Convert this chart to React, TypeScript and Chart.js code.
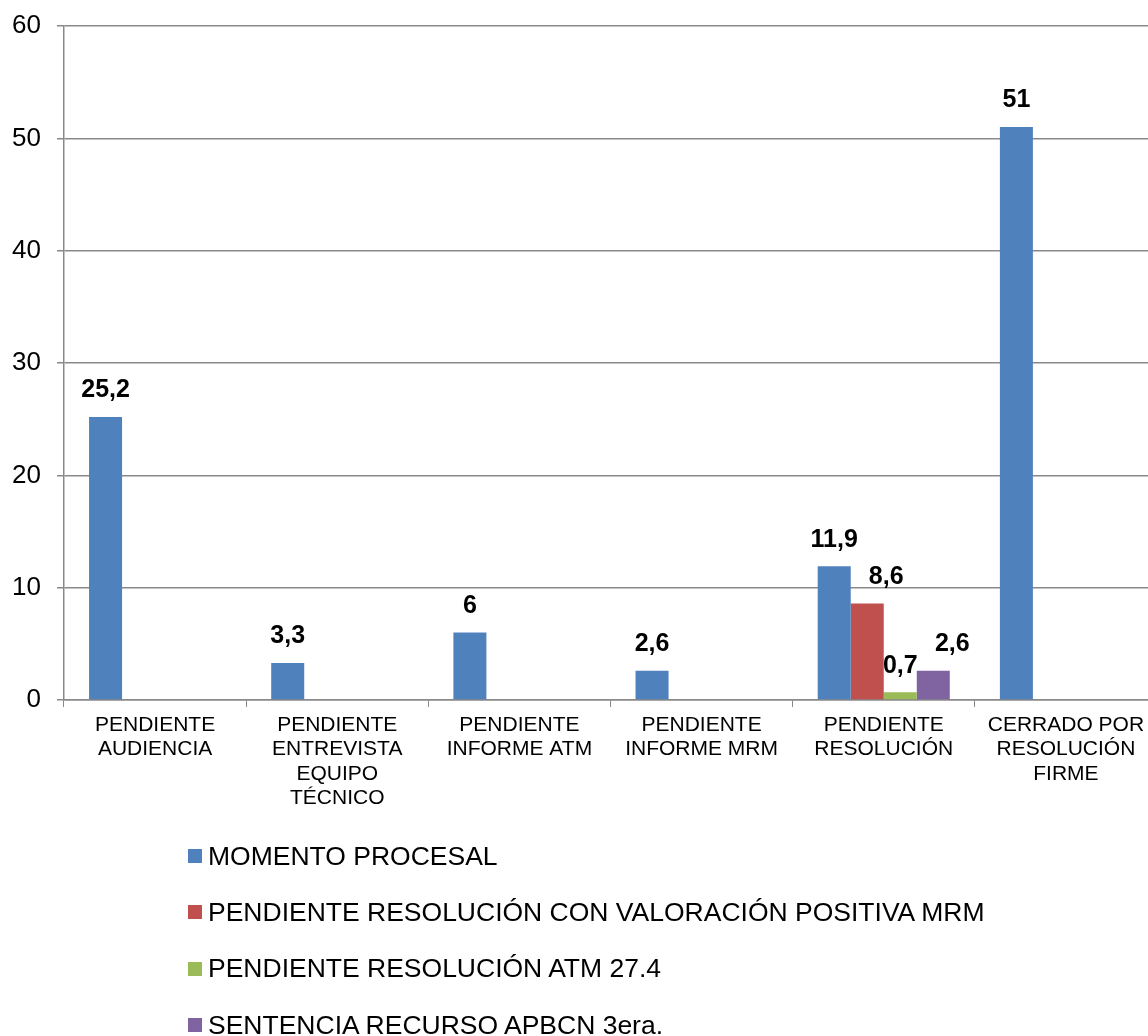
import React, { useEffect, useRef } from "react";
import { Chart, registerables } from "chart.js";

Chart.register(...registerables);

const categories: string[][] = [
  ["PENDIENTE", "AUDIENCIA"],
  ["PENDIENTE", "ENTREVISTA", "EQUIPO", "TÉCNICO"],
  ["PENDIENTE", "INFORME ATM"],
  ["PENDIENTE", "INFORME MRM"],
  ["PENDIENTE", "RESOLUCIÓN"],
  ["CERRADO POR", "RESOLUCIÓN", "FIRME"],
];

const seriesNames: string[] = [
  "MOMENTO PROCESAL",
  "PENDIENTE RESOLUCIÓN CON VALORACIÓN POSITIVA MRM",
  "PENDIENTE RESOLUCIÓN ATM 27.4",
  "SENTENCIA RECURSO APBCN 3era.",
];

const momentoProcesal: (number | null)[] = [25.2, 3.3, 6, 2.6, 11.9, 51];
const pendienteValoracionMRM: (number | null)[] = [null, null, null, null, 8.6, null];
const pendienteATM274: (number | null)[] = [null, null, null, null, 0.7, null];
const sentenciaAPBCN: (number | null)[] = [null, null, null, null, 2.6, null];

const yTicks: number[] = [0, 10, 20, 30, 40, 50, 60];

const seriesColors = ["#4F81BD", "#C0504D", "#9BBB59", "#8064A2"];
const GRID = "#898989";
const FONT = "'Liberation Sans', Arial, sans-serif";

// horizontal nudges of some labels (datasetIndex-categoryIndex), as in the original layout
const labelShift: Record<string, number> = { "1-4": 19, "3-4": 19 };

const dataLabelPlugin = {
  id: "barValueLabels",
  afterDatasetsDraw(chart: any) {
    const ctx = chart.ctx;
    ctx.save();
    ctx.font = `bold 25px ${FONT}`;
    ctx.fillStyle = "#000";
    ctx.textAlign = "center";
    ctx.textBaseline = "middle";
    chart.data.datasets.forEach((ds: any, i: number) => {
      const meta = chart.getDatasetMeta(i);
      meta.data.forEach((bar: any, j: number) => {
        const v = ds.data[j];
        if (v === null || v === undefined) return;
        const shift = labelShift[`${i}-${j}`] || 0;
        ctx.fillText(String(v).replace(".", ","), bar.x + shift, bar.y - 26.5);
      });
    });
    ctx.restore();
  },
};

export default function App() {
  const ref = useRef<HTMLCanvasElement | null>(null);

  useEffect(() => {
    if (!ref.current) return;
    const allSeries = [momentoProcesal, pendienteValoracionMRM, pendienteATM274, sentenciaAPBCN];
    const chart = new Chart(ref.current, {
      type: "bar",
      data: {
        labels: categories,
        datasets: allSeries.map((d, i) => ({
          label: seriesNames[i],
          data: d,
          backgroundColor: seriesColors[i],
          borderWidth: 0,
          categoryPercentage: 0.725,
          barPercentage: 1,
        })),
      },
      options: {
        responsive: false,
        animation: false,
        layout: { padding: { top: 26, right: 3, bottom: 226, left: 0 } },
        plugins: {
          legend: { display: false },
          tooltip: { enabled: false },
        },
        scales: {
          x: {
            grid: {
              display: true,
              drawOnChartArea: false,
              drawTicks: true,
              tickLength: 7,
              color: GRID,
              offset: true,
            },
            border: { display: true, color: GRID, width: 1.5 },
            ticks: {
              color: "#000",
              font: { family: FONT, size: 21, lineHeight: "24.3px" },
              padding: 6,
              maxRotation: 0,
              minRotation: 0,
              autoSkip: false,
            },
            afterFit(scale: any) {
              scale.height = 110;
            },
          },
          y: {
            min: 0,
            max: 60,
            afterBuildTicks(scale: any) {
              scale.ticks = yTicks.map((v) => ({ value: v }));
            },
            grid: {
              color: GRID,
              lineWidth: 1.5,
              tickLength: 7,
              drawTicks: true,
            },
            border: { display: true, color: GRID, width: 1.5 },
            ticks: {
              color: "#000",
              font: { family: FONT, size: 26 },
              padding: 16,
            },
            afterFit(scale: any) {
              scale.width = 64;
              scale.paddingTop = 0;
              scale.paddingBottom = 0;
            },
          },
        },
      },
      plugins: [dataLabelPlugin],
    });
    return () => chart.destroy();
  }, []);

  return (
    <div
      style={{
        position: "absolute",
        left: 0,
        top: 0,
        width: 1148,
        height: 1036,
        overflow: "hidden",
        background: "#fff",
      }}
    >
      <canvas ref={ref} width={1160} height={1036} style={{ display: "block" }} />
      <div
        style={{
          position: "absolute",
          left: 188,
          top: 828,
          fontFamily: FONT,
          fontSize: 26.5,
          color: "#000",
        }}
      >
        {seriesNames.map((name, i) => (
          <div
            key={name}
            style={{ display: "flex", alignItems: "center", height: 56.3, whiteSpace: "nowrap" }}
          >
            <span
              style={{
                display: "inline-block",
                width: 14,
                height: 14,
                background: seriesColors[i],
                marginRight: 6,
                flex: "none",
              }}
            />
            <span>{name}</span>
          </div>
        ))}
      </div>
    </div>
  );
}
